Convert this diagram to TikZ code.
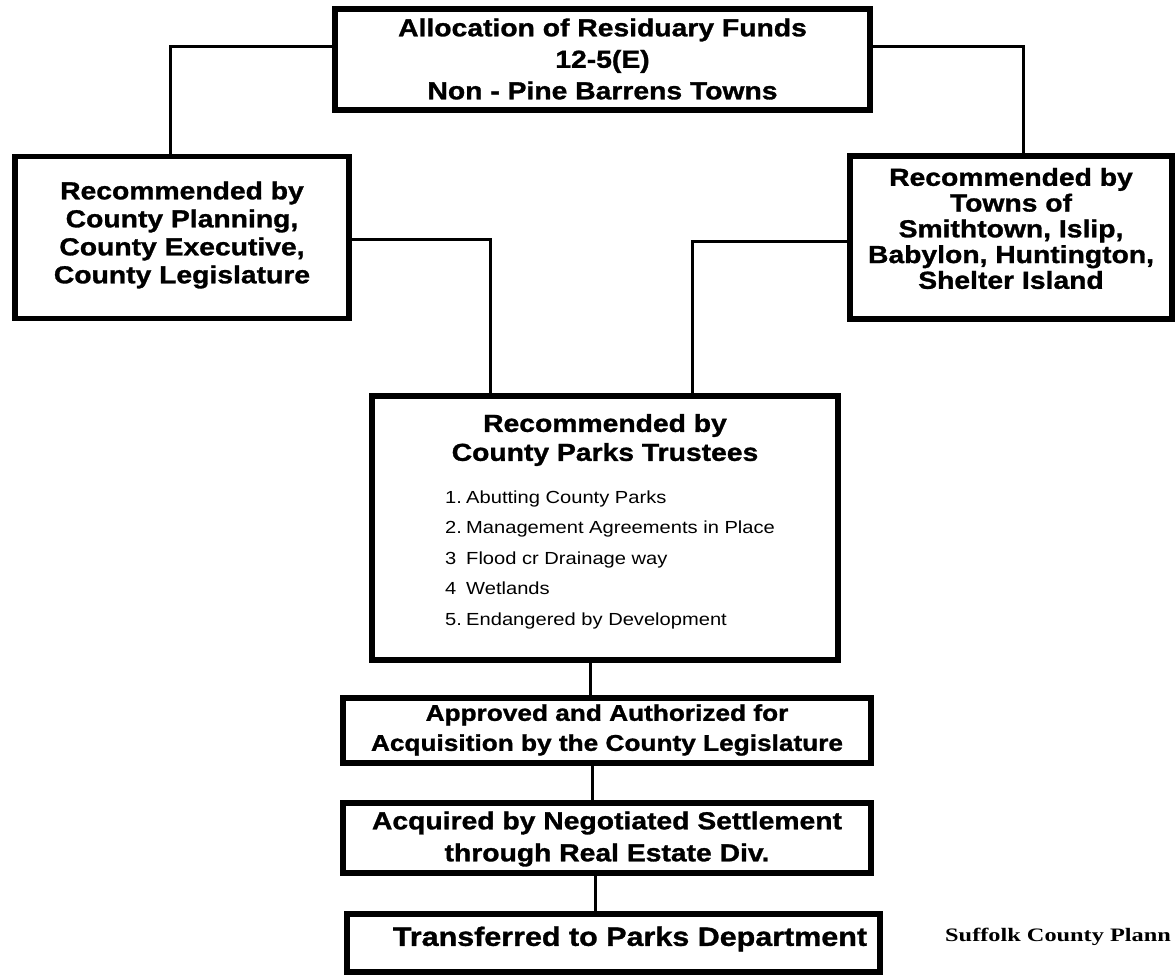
\documentclass[tikz,border=0pt]{standalone}
\usepackage{fontspec}
\setmainfont{Liberation Sans}[FakeStretch=1.15, BoldFeatures={FakeBold=1.2}]
\newfontfamily\footfont{Liberation Serif}[FakeStretch=1.28]
\begin{document}
\begin{tikzpicture}[x=1pt,y=-1pt,
  box/.style={draw=black, line width=5.5pt, inner sep=0pt},
  conn/.style={draw=black, line width=3pt},
  ttl/.style={align=center, inner sep=0pt},
  item/.style={anchor=base west, font=\fontsize{17.5}{20}\selectfont, inner sep=0pt}]
\useasboundingbox[fill=white] (0,0) rectangle (1176,976);

% boxes
\node[box, minimum width=535pt, minimum height=101pt] (top) at (602.5,59.5) {};
\node[box, minimum width=334pt, minimum height=162pt] (lbox) at (182,237.5) {};
\node[box, minimum width=322pt, minimum height=163pt] (rbox) at (1011,237.5) {};
\node[box, minimum width=466pt, minimum height=264pt] (mbox) at (605,528) {};
\node[box, minimum width=528pt, minimum height=65pt] (b5) at (607,730.5) {};
\node[box, minimum width=528pt, minimum height=70pt] (b6) at (607,838) {};
\node[box, minimum width=533pt, minimum height=58pt] (b7) at (613.5,943) {};

% texts
\node[ttl, font=\fontsize{24.6}{31.5}\selectfont\bfseries] (topT) at (602.5,59) {Allocation of Residuary Funds\\12-5(E)\\Non - Pine Barrens Towns};
\node[ttl, font=\fontsize{24.6}{28}\selectfont\bfseries] (ltxt) at (182,235) {Recommended by\\County Planning,\\County Executive,\\County Legislature};
\node[ttl, font=\fontsize{24.6}{25.75}\selectfont\bfseries] (rtxt) at (1011,228.5) {Recommended by\\Towns of\\Smithtown, Islip,\\Babylon, Huntington,\\Shelter Island};
\node[ttl, font=\fontsize{24.6}{29}\selectfont\bfseries] (mtxt) at (605,440) {Recommended by\\County Parks Trustees};
\node[item] (n1) at (445,503) {1.};
\node[item] (i1) at (466,503) {Abutting County Parks};
\node[item] (n2) at (445,533.5) {2.};
\node[item] (i2) at (466,533.5) {Management Agreements in Place};
\node[item] (n3) at (445,564) {3};
\node[item] (i3) at (466,564) {Flood cr Drainage way};
\node[item] (n4) at (445,594.5) {4};
\node[item] (i4) at (466,594.5) {Wetlands};
\node[item] (n5) at (445,625) {5.};
\node[item] (i5) at (466,625) {Endangered by Development};
\node[ttl, font=\fontsize{22.8}{30}\selectfont\bfseries] (t5) at (607,730) {Approved and Authorized for\\Acquisition by the County Legislature};
\node[ttl, font=\fontsize{24.6}{32}\selectfont\bfseries] (t6) at (607,839) {Acquired by Negotiated Settlement\\through Real Estate Div.};
\node[ttl, font=\fontsize{26.5}{30}\selectfont\bfseries] (t7) at (630,939) {Transferred to Parks Department};
\node[anchor=base west, inner sep=0pt, font=\footfont\bfseries\fontsize{19}{22}\selectfont] (foot) at (945,941) {Suffolk County Plann};

% connectors
\coordinate (c1) at (170,47);
\draw[conn] (top.west |- c1) -- (c1) -- (c1 |- lbox.north);
\coordinate (c2) at (1023,47);
\draw[conn] (top.east |- c2) -- (c2) -- (c2 |- rbox.north);
\coordinate (c3) at (490,240);
\draw[conn] (lbox.east |- c3) -- (c3) -- (c3 |- mbox.north);
\coordinate (c4) at (692,242);
\draw[conn] (rbox.west |- c4) -- (c4) -- (c4 |- mbox.north);
\coordinate (c5) at (590,0);
\draw[conn] (c5 |- mbox.south) -- (c5 |- b5.north);
\coordinate (c6) at (592,0);
\draw[conn] (c6 |- b5.south) -- (c6 |- b6.north);
\coordinate (c7) at (595,0);
\draw[conn] (c7 |- b6.south) -- (c7 |- b7.north);
\end{tikzpicture}
\end{document}
